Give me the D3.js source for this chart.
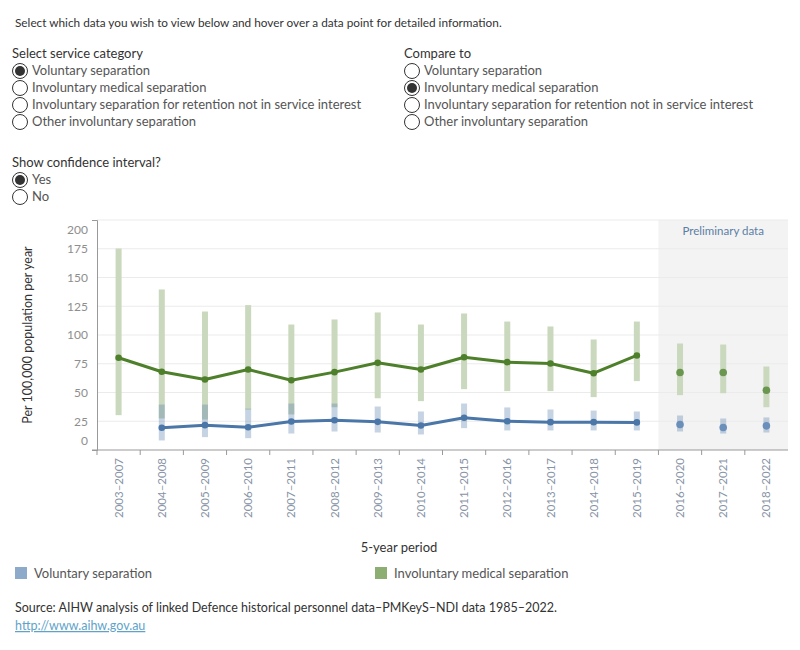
<!DOCTYPE html>
<html>
<head>
<meta charset="utf-8">
<script src="https://cdn.jsdelivr.net/npm/d3@7"></script>
<style>
  body { margin: 0; background: #fff; }
  svg text { font-family: Lato, "Open Sans", sans-serif; }
</style>
</head>
<body>
<svg id="chart" width="800" height="650"></svg>
<script>
// --- data ---
const periods = ['2003–2007', '2004–2008', '2005–2009', '2006–2010', '2007–2011', '2008–2012', '2009–2013', '2010–2014',
    '2011–2015', '2012–2016', '2013–2017', '2014–2018', '2015–2019', '2016–2020', '2017–2021', '2018–2022'];
const preliminary = ['2016–2020', '2017–2021', '2018–2022'];

const voluntary = [null, 19.3, 21.6, 19.8, 24.8, 25.9, 24.5, 21.3, 28.0, 25.0, 24.2, 24.2, 24.0, 22.2, 19.6, 21.0];
const voluntaryLow = [null, 8.3, 11.2, 10.3, 14.3, 16.1, 15.2, 13.5, 19.0, 17.0, 17.0, 17.0, 17.0, 16.1, 14.3, 15.2];
const voluntaryHigh = [null, 39.5, 39.5, 36.0, 40.4, 40.4, 37.8, 33.5, 40.4, 37.0, 35.2, 34.3, 33.5, 30.0, 27.4, 28.3];

const medical = [80.2, 68.0, 61.3, 70.0, 60.7, 67.7, 75.8, 70.0, 80.7, 76.4, 75.2, 66.8, 82.2, 67.4, 67.4, 52.0];
const medicalLow = [30.3, 27.4, 26.5, 35.2, 30.9, 37.2, 45.0, 42.5, 52.9, 51.2, 51.2, 46.0, 59.9, 47.7, 49.4, 37.2];
const medicalHigh = [175.2, 139.6, 120.4, 126.0, 109.1, 113.5, 119.6, 109.1, 118.7, 111.7, 107.4, 96.1, 111.7, 92.6, 91.7, 72.6];

const yTicks = [0, 25, 50, 75, 100, 125, 150, 175, 200];
const categories = ['Voluntary separation', 'Involuntary medical separation',
    'Involuntary separation for retention not in service interest', 'Other involuntary separation'];

const svg = d3.select('#chart');

// --- controls (static picture of the radio buttons) ---
svg.append('text').attr('x', 15).attr('y', 27).attr('font-size', 11.8).attr('fill', '#333')
    .text('Select which data you wish to view below and hover over a data point for detailed information.');

function radioGroup(x, y, title, items, selected) {
    svg.append('text').attr('x', x).attr('y', y).attr('font-size', 13).attr('fill', '#333').text(title);
    items.forEach((item, i) => {
        const cy = y + 17 + i * 17;
        svg.append('circle').attr('cx', x + 8).attr('cy', cy - 4).attr('r', 7.5)
            .attr('fill', '#fff').attr('stroke', '#333').attr('stroke-width', 1);
        if (i === selected) {
            svg.append('circle').attr('cx', x + 8).attr('cy', cy - 4).attr('r', 5).attr('fill', '#333');
        }
        svg.append('text').attr('x', x + 20).attr('y', cy).attr('font-size', 13).attr('fill', '#555').text(item);
    });
}
radioGroup(12, 58, 'Select service category', categories, 0);
radioGroup(404, 58, 'Compare to', categories, 1);
radioGroup(12, 167, 'Show confidence interval?', ['Yes', 'No'], 0);

// --- chart ---
const plot = {left: 97, right: 788, top: 220, bottom: 450};

const x = d3.scaleBand().domain(periods).range([plot.left, plot.right]);
const y = d3.scaleLinear().domain([0, 200]).range([plot.bottom, plot.top]);
const cx = p => x(p) + x.bandwidth() / 2;

// preliminary panel
svg.append('rect')
    .attr('x', x(preliminary[0])).attr('y', plot.top)
    .attr('width', plot.right - x(preliminary[0])).attr('height', plot.bottom - plot.top)
    .attr('fill', '#f3f3f3');
svg.append('text')
    .attr('x', (x(preliminary[0]) + plot.right) / 2).attr('y', 235)
    .attr('text-anchor', 'middle').attr('font-size', 11.5).attr('fill', '#5b7ea6')
    .text('Preliminary data');

// gridlines
svg.append('g').selectAll('line').data(yTicks.filter(d => d > 0)).enter()
    .append('line')
    .attr('x1', plot.left).attr('x2', plot.right)
    .attr('y1', d => y(d)).attr('y2', d => y(d))
    .attr('stroke', '#ebebeb');

// y axis
const gY = svg.append('g')
    .attr('transform', 'translate(' + plot.left + ',0)')
    .call(d3.axisLeft(y).tickValues(yTicks).tickSize(0).tickSizeOuter(5).tickPadding(9));
gY.select('.domain').attr('stroke', '#999');
gY.selectAll('.tick text')
    .attr('font-size', 12).attr('fill', '#8e8e8e').attr('font-family', 'Lato, sans-serif')
    .attr('y', d => d === 200 ? 10 : d === 0 ? -9 : 0);

// x axis
const gX = svg.append('g')
    .attr('transform', 'translate(0,' + plot.bottom + ')')
    .call(d3.axisBottom(x).tickSize(0).tickSizeOuter(0));
gX.select('.domain').remove();
gX.append('line').attr('x1', plot.left - 5).attr('x2', plot.right).attr('stroke', '#999');
gX.selectAll('.bound').data(periods).enter()
    .append('line')
    .attr('class', 'bound')
    .attr('x1', d => x(d)).attr('x2', d => x(d))
    .attr('y1', 0).attr('y2', 5)
    .attr('stroke', '#999');
gX.selectAll('.tick text')
    .attr('font-size', 11.5).attr('fill', '#8793a6').attr('font-family', 'Lato, sans-serif')
    .attr('transform', 'rotate(-90)')
    .attr('text-anchor', 'end')
    .attr('x', -8).attr('y', 0).attr('dy', '0.35em');

// axis titles
svg.append('text')
    .attr('transform', 'translate(32,' + (plot.top + plot.bottom) / 2 + ') rotate(-90)')
    .attr('text-anchor', 'middle').attr('font-size', 12.5).attr('fill', '#333')
    .text('Per 100,000 population per year');
svg.append('text')
    .attr('x', 399).attr('y', 552)
    .attr('text-anchor', 'middle').attr('font-size', 13).attr('fill', '#333')
    .text('5-year period');

// confidence interval bars
const barW = 6;
const medRows = periods.map((p, i) => ({p, v: medical[i], lo: medicalLow[i], hi: medicalHigh[i]}));
const volRows = periods.map((p, i) => ({p, v: voluntary[i], lo: voluntaryLow[i], hi: voluntaryHigh[i]}))
    .filter(d => d.v !== null);

svg.append('g').selectAll('rect').data(medRows).enter()
    .append('rect')
    .attr('x', d => cx(d.p) - barW / 2).attr('width', barW)
    .attr('y', d => y(d.hi)).attr('height', d => y(d.lo) - y(d.hi))
    .attr('fill', '#cad8bd');
svg.append('g').selectAll('rect').data(volRows).enter()
    .append('rect')
    .attr('x', d => cx(d.p) - barW / 2).attr('width', barW)
    .attr('y', d => y(d.hi)).attr('height', d => y(d.lo) - y(d.hi))
    .attr('fill', '#5a82b0').attr('opacity', 0.35);

// lines (final data only) and points
const isPrelim = p => preliminary.includes(p);
const line = d3.line().x(d => cx(d.p)).y(d => y(d.v));

function series(rows, lineColor, prelimColor) {
    svg.append('path')
        .datum(rows.filter(d => !isPrelim(d.p)))
        .attr('d', line)
        .attr('fill', 'none').attr('stroke', lineColor).attr('stroke-width', 3)
        .attr('stroke-linejoin', 'round');
    svg.append('g').selectAll('circle').data(rows).enter()
        .append('circle')
        .attr('cx', d => cx(d.p)).attr('cy', d => y(d.v))
        .attr('r', d => isPrelim(d.p) ? 3.8 : 3.3)
        .attr('fill', d => isPrelim(d.p) ? prelimColor : lineColor);
}
series(medRows, '#4e7f2b', '#6a9650');
series(volRows, '#4a76a8', '#6b8fbb');

// legend
const legend = [
    {label: 'Voluntary separation', color: '#8eaacb', x: 15},
    {label: 'Involuntary medical separation', color: '#8cae72', x: 375}
];
legend.forEach(l => {
    svg.append('rect').attr('x', l.x).attr('y', 567).attr('width', 12).attr('height', 12).attr('fill', l.color);
    svg.append('text').attr('x', l.x + 19).attr('y', 578).attr('font-size', 13).attr('fill', '#555').text(l.label);
});

// source
svg.append('text').attr('x', 15).attr('y', 612).attr('font-size', 12.5).attr('fill', '#333')
    .text('Source: AIHW analysis of linked Defence historical personnel data–PMKeyS–NDI data 1985–2022.');
svg.append('text').attr('x', 15).attr('y', 630).attr('font-size', 12.5).attr('fill', '#5fa3c9')
    .attr('text-decoration', 'underline')
    .text('http://www.aihw.gov.au');
</script>
</body>
</html>
